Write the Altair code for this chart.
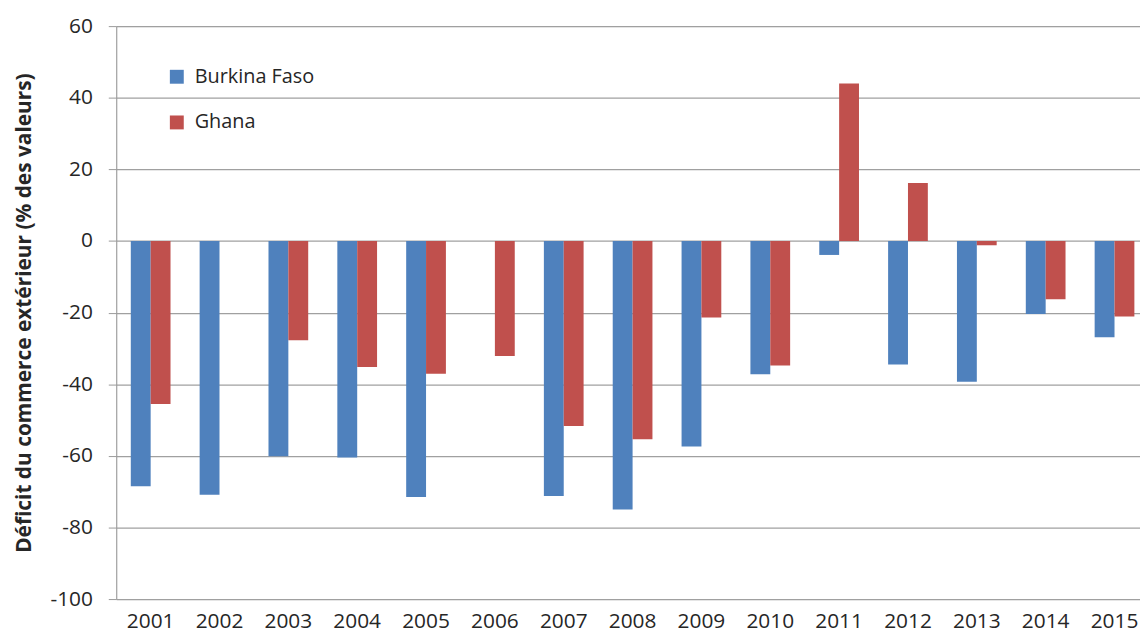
import altair as alt
import pandas as pd

years = [str(y) for y in range(2001, 2016)]
burkina = [-68.5, -70.9, -60.1, -60.5, -71.5, None, -71.2, -75.0, -57.4, -37.2, -3.9, -34.5, -39.3, -20.4, -26.9]
ghana = [-45.5, None, -27.7, -35.2, -37.1, -32.1, -51.7, -55.4, -21.4, -34.8, 44.0, 16.2, -1.2, -16.3, -21.1]
series = ["Burkina Faso", "Ghana"]
colors = ["#4F81BD", "#C0504D"]
y_ticks = [-100, -80, -60, -40, -20, 0, 20, 40, 60]

rows = []
for i, yr in enumerate(years):
    if burkina[i] is not None:
        rows.append({"annee": yr, "pays": series[0], "valeur": burkina[i]})
    if ghana[i] is not None:
        rows.append({"annee": yr, "pays": series[1], "valeur": ghana[i]})
df = pd.DataFrame(rows)

FONT = "Open Sans"
TXT = "#262626"

chart = alt.Chart(df).mark_bar().encode(
    x=alt.X("annee:N", sort=years,
            scale=alt.Scale(domain=years, paddingInner=0.423, paddingOuter=0.2115),
            axis=alt.Axis(title=None, labelAngle=0, ticks=False, domain=False, grid=False,
                          labelFontSize=21, labelFont=FONT, labelColor=TXT, labelPadding=12)),
    xOffset=alt.XOffset("pays:N", scale=alt.Scale(domain=series, paddingInner=0, paddingOuter=0)),
    y=alt.Y("valeur:Q",
            scale=alt.Scale(domain=[-100, 60], nice=False, zero=False),
            axis=alt.Axis(values=y_ticks, labelExpr="'' + datum.value",
                          title="Déficit du commerce extérieur (% des valeurs)",
                          titleFont=FONT, titleFontSize=21, titleFontWeight="bold", titleColor=TXT,
                          titleAngle=-90, titleX=-92, titleY=288.5, titleAlign="center", titleBaseline="middle",
                          labelFont=FONT, labelFontSize=21, labelColor=TXT, labelPadding=16,
                          tickSize=8, tickColor="#999999", domainColor="#999999",
                          grid=True, gridColor="#A0A0A0", gridWidth=1.2)),
    color=alt.Color("pays:N", scale=alt.Scale(domain=series, range=colors),
                    legend=alt.Legend(title=None, orient="none", legendX=51, legendY=41,
                                      symbolType="square", symbolSize=196, symbolStrokeWidth=0,
                                      labelFont=FONT, labelFontSize=20, labelColor=TXT,
                                      rowPadding=26, labelOffset=8, padding=0)),
).properties(
    width=1040, height=577,
    autosize=alt.AutoSizeParams(type="none"),
    padding={"left": 109, "top": 16, "right": -9, "bottom": 43},
).configure_view(stroke=None).configure(background="white")

chart.save("out.html", embed_options={"renderer": "svg", "actions": False})
